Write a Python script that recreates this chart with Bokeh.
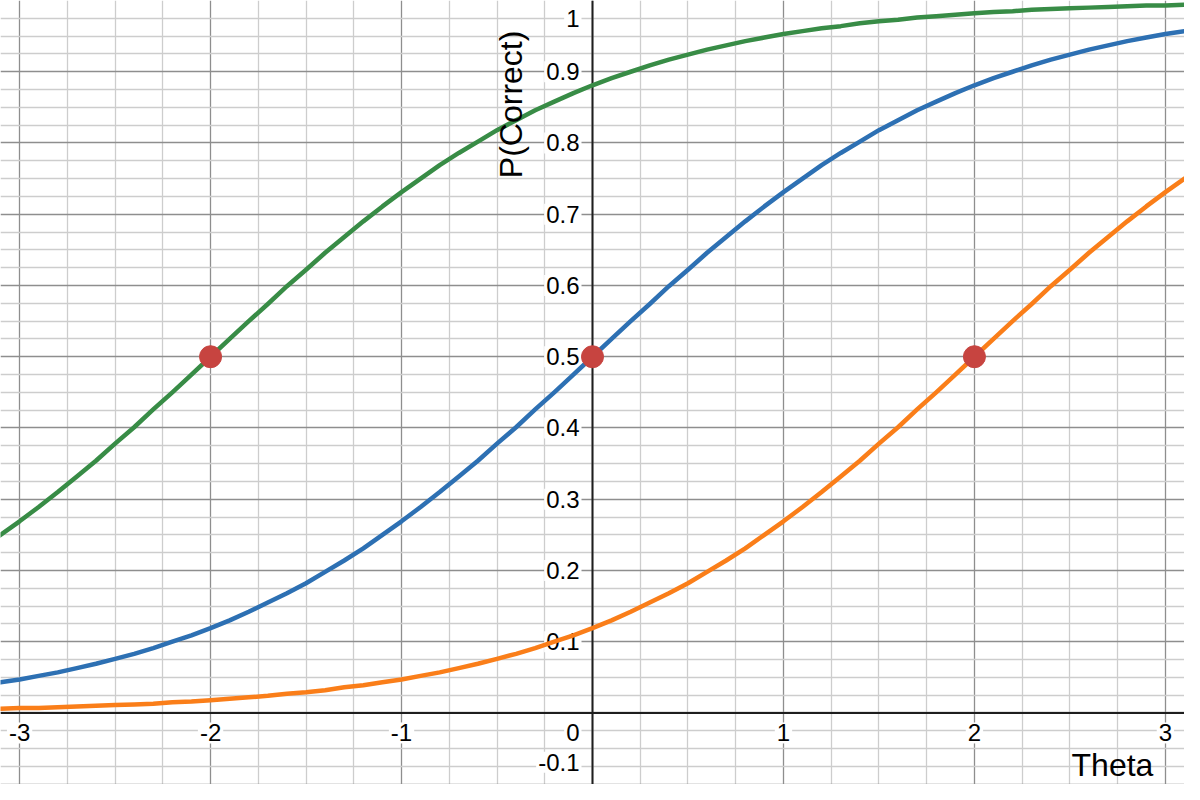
import numpy as np
from bokeh.plotting import figure
from bokeh.models import Range1d, FixedTicker, Span, Label
from bokeh.core.properties import value
from bokeh.embed import file_html
from bokeh.resources import INLINE

# ---- data ----
theta = [-3.2, -3.1, -3.0, -2.9, -2.8, -2.7, -2.6, -2.5, -2.4, -2.3, -2.2, -2.1, -2.0, -1.9, -1.8, -1.7,
         -1.6, -1.5, -1.4, -1.3, -1.2, -1.1, -1.0, -0.9, -0.8, -0.7, -0.6, -0.5, -0.4, -0.3, -0.2, -0.1,
         0.0, 0.1, 0.2, 0.3, 0.4, 0.5, 0.6, 0.7, 0.8, 0.9, 1.0, 1.1, 1.2, 1.3, 1.4, 1.5, 1.6,
         1.7, 1.8, 1.9, 2.0, 2.1, 2.2, 2.3, 2.4, 2.5, 2.6, 2.7, 2.8, 2.9, 3.0, 3.1, 3.2]
p_easy = [0.231, 0.250, 0.269, 0.289, 0.310, 0.332, 0.354, 0.378, 0.401, 0.426, 0.450, 0.475,
          0.500,
          0.525, 0.550, 0.574, 0.599, 0.622, 0.646, 0.668, 0.690, 0.711, 0.731,
          0.750, 0.769, 0.786, 0.802, 0.818, 0.832, 0.846, 0.858, 0.870, 0.881,
          0.891, 0.900, 0.909, 0.917, 0.924, 0.931, 0.937, 0.943, 0.948, 0.953,
          0.957, 0.961, 0.964, 0.968, 0.971, 0.973, 0.976, 0.978, 0.980, 0.982,
          0.984, 0.985, 0.987, 0.988, 0.989, 0.990, 0.991, 0.992, 0.993, 0.993,
          0.994, 0.995]
p_medium = [0.039, 0.043, 0.047, 0.052, 0.057, 0.063, 0.069, 0.076, 0.083, 0.091,
            0.100, 0.109, 0.119, 0.130, 0.142, 0.155, 0.168, 0.182, 0.198, 0.214,
            0.231, 0.250, 0.269, 0.289, 0.310, 0.332, 0.354, 0.378, 0.401, 0.426,
            0.450, 0.475, 0.500, 0.525, 0.550, 0.574, 0.599, 0.622, 0.646, 0.668,
            0.690, 0.711, 0.731, 0.750, 0.769, 0.786, 0.802, 0.818, 0.832, 0.846,
            0.858, 0.870, 0.881, 0.891, 0.900, 0.909, 0.917, 0.924, 0.931, 0.937,
            0.943, 0.948, 0.953, 0.957, 0.961]
p_hard = [0.005, 0.006, 0.007, 0.007, 0.008, 0.009, 0.010, 0.011, 0.012, 0.013,
          0.015, 0.016, 0.018, 0.020, 0.022, 0.024, 0.027, 0.029, 0.032, 0.036,
          0.039, 0.043, 0.047, 0.052, 0.057, 0.063, 0.069, 0.076, 0.083, 0.091,
          0.100, 0.109, 0.119, 0.130, 0.142, 0.155, 0.168, 0.182, 0.198, 0.214,
          0.231, 0.250, 0.269, 0.289, 0.310, 0.332, 0.354, 0.378, 0.401, 0.426,
          0.450, 0.475, 0.500, 0.525, 0.550, 0.574, 0.599, 0.622, 0.646, 0.668,
          0.690, 0.711, 0.731, 0.750, 0.769]
point_theta = [-2, 0, 2]
point_p = [0.5, 0.5, 0.5]

x_tick_values = [-3, -2, -1, 1, 2, 3]
x_tick_labels = ["-3", "-2", "-1", "1", "2", "3"]
y_tick_values = [-0.1, 0.1, 0.2, 0.3, 0.4, 0.5, 0.6, 0.7, 0.8, 0.9, 1.0]
y_tick_labels = ["-0.1", "0.1", "0.2", "0.3", "0.4", "0.5", "0.6", "0.7", "0.8", "0.9", "1"]
x_title = "Theta"
y_title = "P(Correct)"

# ---- layout ----
W, H = 1184, 784
X0, X1 = -3.1, 3.1
Y0, Y1 = -73 / 727, 1.0
FONT = "Liberation Sans"

p = figure(width=W, height=H, output_backend="svg", toolbar_location=None,
           x_range=Range1d(X0, X1), y_range=Range1d(Y0, Y1), min_border=0)
p.outline_line_color = None
p.background_fill_color = "white"
p.border_fill_color = "white"
p.xaxis.visible = False
p.yaxis.visible = False

xmaj = list(range(-3, 4))
xmin = [float(v) for v in np.round(np.arange(-3.25, 3.26, 0.25), 3) if abs(v - round(v)) > 1e-6]
ymaj = [float(v) for v in np.round(np.arange(-0.1, 1.001, 0.1), 3)]
ymin = [float(v) for v in np.round(np.arange(-0.1, 1.001, 0.025), 3) if float(v) not in ymaj]

for g, maj, mn in ((p.xgrid, xmaj, xmin), (p.ygrid, ymaj, ymin)):
    g.ticker = FixedTicker(ticks=maj, minor_ticks=mn)
    g.grid_line_color = "#8e8e8e"
    g.grid_line_width = 1.3
    g.grid_line_alpha = 1.0
    g.minor_grid_line_color = "#cdcdcd"
    g.minor_grid_line_width = 1.3

p.add_layout(Span(location=0, dimension="height", line_color="#1e1e1e", line_width=2, level="underlay"))
p.add_layout(Span(location=0, dimension="width", line_color="#1e1e1e", line_width=2, level="underlay"))

TS = "24px"
common = dict(text_font=value(FONT), text_font_size=TS, text_color="black",
              background_fill_color="white", padding=2)

# x tick labels
p.text(x=x_tick_values, y=[0] * len(x_tick_values), text=x_tick_labels,
       text_align="center", text_baseline="middle", y_offset=20, **common)
# y tick labels (clamped at the view edges)
y_offs = [(-22 if v == min(y_tick_values) else (18 if v == max(y_tick_values) else 0)) for v in y_tick_values]
p.text(x=[0] * len(y_tick_values), y=y_tick_values, text=y_tick_labels,
       text_align="right", text_baseline="middle", x_offset=-11, y_offset=y_offs, **common)
# origin label
p.text(x=[0], y=[0], text=["0"], text_align="right", text_baseline="middle",
       x_offset=-11, y_offset=20, **common)

# curves
p.line(theta, p_easy, line_color="#388c46", line_width=4.5, line_join="round")
p.line(theta, p_medium, line_color="#2d70b3", line_width=4.5, line_join="round")
p.line(theta, p_hard, line_color="#fa7e19", line_width=4.5, line_join="round")
p.scatter(point_theta, point_p, size=22, fill_color="#c74440", line_color="#c74440")

sx = W / 1200
sy = H / 800
p.add_layout(Label(x=1127 * sx, y=20, x_units="screen", y_units="screen", text=x_title,
                   text_font=FONT, text_font_size="32px", text_align="center",
                   text_baseline="middle", text_color="black"))
p.add_layout(Label(x=517 * sx, y=H - 106 * sy, x_units="screen", y_units="screen", text=y_title,
                   angle=np.pi / 2, text_font=FONT, text_font_size="32px", text_align="center",
                   text_baseline="middle", text_color="black"))

open("out.html", "w").write(file_html(p, INLINE))
